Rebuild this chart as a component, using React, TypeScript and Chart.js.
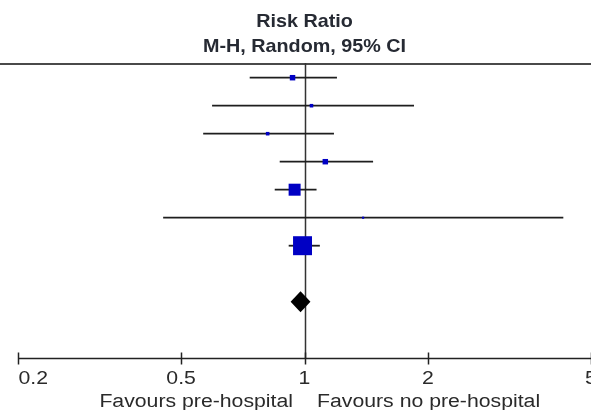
import React, { useEffect, useRef } from 'react';
import { Chart, registerables } from 'chart.js';

Chart.register(...registerables);

// ---- Data ----
const riskRatio = [0.935, 1.04, 0.813, 1.124, 0.946, 1.39, 0.989];
const ciLower = [0.735, 0.595, 0.566, 0.87, 0.846, 0.452, 0.915];
const ciUpper = [1.2, 1.85, 1.18, 1.47, 1.07, 4.28, 1.09];
const weights = [5.2, 2.2, 2.2, 5.2, 25.0, 0.8, 62.5];
const pooledEstimate = 0.978;
const pooledLower = 0.925;
const pooledUpper = 1.034;
const pooledRow = 8;
const tickValues = [0.2, 0.5, 1, 2, 5];
const tickLabels = ['0.2', '0.5', '1', '2', '5'];
const titleLines = ['Risk Ratio', 'M-H, Random, 95% CI'];
const favoursLeft = 'Favours pre-hospital';
const favoursRight = 'Favours no pre-hospital';

const FONT = '"Liberation Sans", Arial, Helvetica, sans-serif';
const TITLE_COLOR = '#262a33';
const TEXT_COLOR = '#2a2a2a';
const SQUARE_COLOR = '#0000c4';

function drawText(ctx: CanvasRenderingContext2D, text: string, x: number, y: number, align: CanvasTextAlign, sx: number) {
  ctx.save();
  ctx.translate(x, y);
  ctx.scale(sx, 1);
  ctx.textAlign = align;
  ctx.fillText(text, 0, 0);
  ctx.restore();
}

const forestPlugin = {
  id: 'forest',
  beforeDatasetsDraw(chart: any) {
    const { ctx, chartArea, scales } = chart;
    const xs = scales.x;
    const ys = scales.y;
    const w = chart.width;
    ctx.save();
    // top rule
    ctx.strokeStyle = '#4a4a4a';
    ctx.lineWidth = 2;
    ctx.beginPath();
    ctx.moveTo(0, chartArea.top + 1);
    ctx.lineTo(w, chartArea.top + 1);
    ctx.stroke();
    // line of no effect
    const x1 = Math.round(xs.getPixelForValue(1)) + 0.5;
    ctx.strokeStyle = '#333';
    ctx.lineWidth = 1.5;
    ctx.beginPath();
    ctx.moveTo(x1, chartArea.top);
    ctx.lineTo(x1, chartArea.bottom);
    ctx.stroke();
    // axis line and ticks
    const yA = Math.round(chartArea.bottom) + 0.5;
    ctx.strokeStyle = '#222';
    ctx.lineWidth = 1.5;
    ctx.beginPath();
    ctx.moveTo(xs.getPixelForValue(tickValues[0]), yA);
    ctx.lineTo(w, yA);
    ctx.stroke();
    tickValues.forEach((v) => {
      const px = Math.round(xs.getPixelForValue(v)) + 0.5;
      ctx.beginPath();
      ctx.moveTo(px, yA - 6);
      ctx.lineTo(px, yA + 6);
      ctx.stroke();
    });
    // confidence intervals
    ctx.strokeStyle = '#1e1e1e';
    ctx.lineWidth = 1.8;
    riskRatio.forEach((_, i) => {
      const py = ys.getPixelForValue(i);
      ctx.beginPath();
      ctx.moveTo(xs.getPixelForValue(ciLower[i]), py);
      ctx.lineTo(xs.getPixelForValue(ciUpper[i]), py);
      ctx.stroke();
    });
    ctx.restore();
  },
  afterDatasetsDraw(chart: any) {
    const { ctx, scales } = chart;
    const xs = scales.x;
    const ys = scales.y;
    const py = ys.getPixelForValue(pooledRow);
    const half = 10.5;
    ctx.save();
    ctx.fillStyle = '#000';
    ctx.beginPath();
    ctx.moveTo(xs.getPixelForValue(pooledLower), py);
    ctx.lineTo(xs.getPixelForValue(pooledEstimate), py - half);
    ctx.lineTo(xs.getPixelForValue(pooledUpper), py);
    ctx.lineTo(xs.getPixelForValue(pooledEstimate), py + half);
    ctx.closePath();
    ctx.fill();
    ctx.restore();
  },
  afterDraw(chart: any) {
    const { ctx, chartArea, scales } = chart;
    const xs = scales.x;
    const cx = xs.getPixelForValue(1);
    ctx.save();
    ctx.textBaseline = 'alphabetic';
    ctx.fillStyle = TITLE_COLOR;
    ctx.font = 'bold 19px ' + FONT;
    drawText(ctx, titleLines[0], cx, 27.3, 'center', 1.04);
    drawText(ctx, titleLines[1], cx, 52.3, 'center', 1.04);
    ctx.fillStyle = TEXT_COLOR;
    ctx.font = '18px ' + FONT;
    tickValues.forEach((v, i) => {
      const px = xs.getPixelForValue(v);
      drawText(ctx, tickLabels[i], i === 0 ? px + 0.5 : px, chartArea.bottom + 26, i === 0 ? 'left' : 'center', 1.18);
    });
    drawText(ctx, favoursLeft, cx - 11.5, chartArea.bottom + 48.5, 'right', 1.18);
    drawText(ctx, favoursRight, cx + 12.5, chartArea.bottom + 48.5, 'left', 1.18);
    ctx.restore();
  },
};

export default function App() {
  const ref = useRef<HTMLCanvasElement | null>(null);
  useEffect(() => {
    document.body.style.margin = '0';
    const canvas = ref.current;
    if (!canvas) return;
    const radii = weights.map((wt) => (Math.sqrt(wt) * 2.4) / Math.SQRT2);
    const chart = new Chart(canvas, {
      type: 'scatter',
      data: {
        datasets: [
          {
            data: riskRatio.map((v, i) => ({ x: v, y: i })),
            pointStyle: 'rect',
            pointRadius: radii,
            pointHoverRadius: radii,
            backgroundColor: SQUARE_COLOR,
            borderColor: SQUARE_COLOR,
            borderWidth: 0,
            clip: false,
          } as any,
        ],
      },
      options: {
        animation: false,
        responsive: false,
        maintainAspectRatio: false,
        layout: { autoPadding: false, padding: { left: 18, right: 0, top: 63, bottom: 52 } },
        plugins: {
          legend: { display: false },
          tooltip: { enabled: false },
          title: { display: false },
        },
        events: [],
        scales: {
          x: {
            type: 'logarithmic',
            min: tickValues[0],
            max: tickValues[tickValues.length - 1],
            display: false,
            afterBuildTicks: (scale: any) => {
              scale.ticks = tickValues.map((v) => ({ value: v }));
            },
          },
          y: {
            type: 'linear',
            min: -0.525,
            max: 10.011,
            reverse: true,
            display: false,
          },
        },
      } as any,
      plugins: [forestPlugin],
    });
    return () => chart.destroy();
  }, []);
  return (
    <canvas
      ref={ref}
      width={591}
      height={410}
      style={{ display: 'block', width: 591, height: 410 }}
    />
  );
}
